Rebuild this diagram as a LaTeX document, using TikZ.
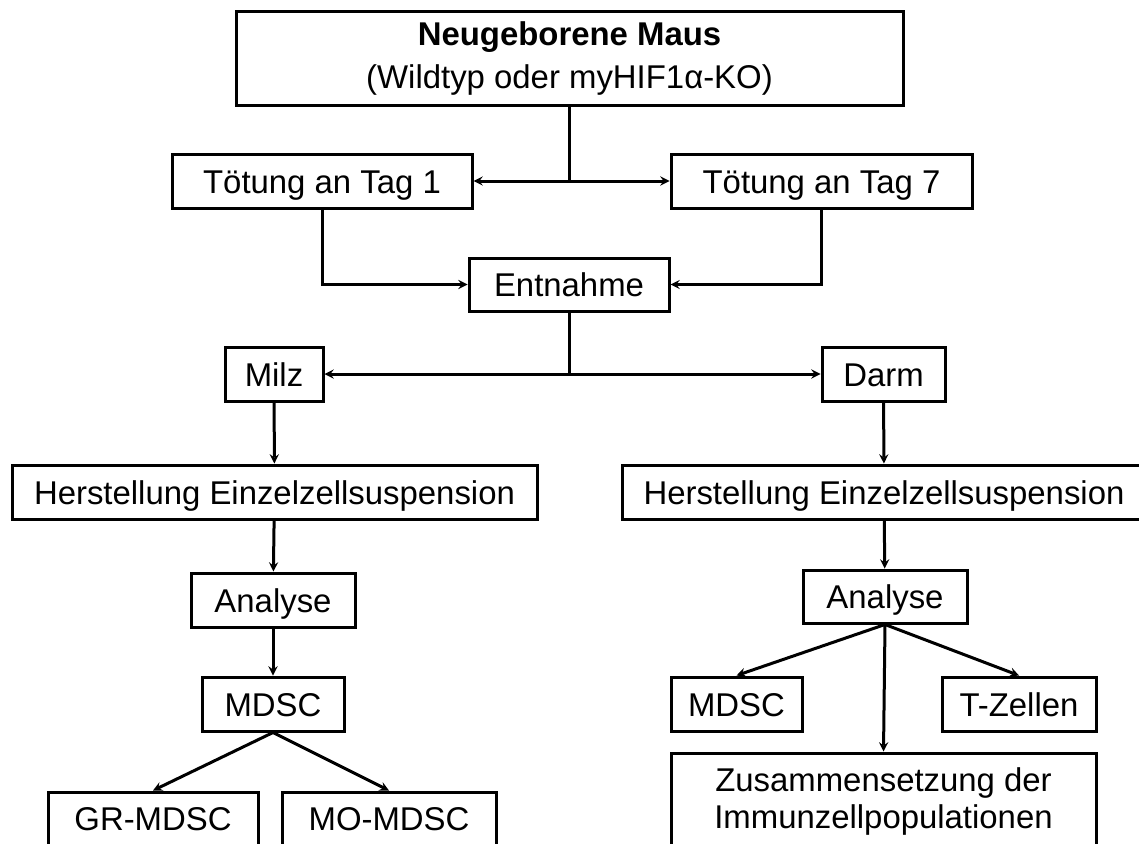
\documentclass[tikz,border=0pt]{standalone}
\usepackage{fontspec}
\setmainfont{Liberation Sans}

\begin{document}
\begin{tikzpicture}[x=1pt,y=-1pt,
    rahmen/.style={draw,line width=3pt,inner sep=0pt,font=\fontsize{32.9}{38}\selectfont},
    kasten/.style={rahmen,text height=24pt,text depth=0pt,minimum height=54pt},
    verb/.style={line width=3pt},
    pfeil/.style={verb,-stealth}]
    \useasboundingbox (0,0) rectangle (1139,843);
    % Maus und Toetung
    \node[rahmen,align=center,minimum width=667pt,minimum height=93pt] (maus) at (569.5,58.5)
        {\textbf{Neugeborene Maus}\\[5pt](Wildtyp oder myHIF1α-KO)};
    \node[kasten,minimum width=300pt] (tag1) at (322,181) {Tötung an Tag 1};
    \node[kasten,minimum width=301pt] (tag7) at (821.5,181) {Tötung an Tag 7};
    \node[kasten,minimum width=200pt,minimum height=53pt] (entnahme) at (569,284.5) {Entnahme};
    \node[kasten,minimum width=98pt] (milz) at (274,374) {Milz};
    \node[kasten,minimum width=123pt] (darm) at (883.5,374) {Darm};
    % linke Seite
    \node[kasten,minimum width=525pt] (hersL) at (274.5,492) {Herstellung Einzelzellsuspension};
    \node[kasten,minimum width=164pt] (anaL) at (273,600) {Analyse};
    \node[kasten,minimum width=142pt] (mdscL) at (273,704) {MDSC};
    \node[kasten,minimum width=210pt,minimum height=58pt,text depth=6pt] (grmdsc) at (153,821) {GR-MDSC};
    \node[kasten,minimum width=214pt,minimum height=58pt,text depth=6pt] (momdsc) at (389,821) {MO-MDSC};
    % rechte Seite
    \node[kasten,minimum width=524pt] (hersR) at (884,492) {Herstellung Einzelzellsuspension};
    \node[kasten,minimum width=164pt,minimum height=53pt] (anaR) at (885,596.5) {Analyse};
    \node[kasten,minimum width=131pt] (mdscR) at (736.5,704) {MDSC};
    \node[kasten,minimum width=154pt] (tzell) at (1019,704) {T-Zellen};
    \node[rahmen,align=center,minimum width=425pt,minimum height=97pt] (zus) at (883.5,801.5)
        {Zusammensetzung der\\[-1pt]Immunzellpopulationen};

    \coordinate (j1) at (maus.south |- tag1.east);
    \coordinate (j2) at (entnahme.south |- milz.east);
    \draw[verb] (maus.south) -- (j1);
    \draw[verb] (entnahme.south) -- (j2);
    \draw[pfeil] (tag1.south) |- (entnahme.west);
    \draw[pfeil] (tag7.south) |- (entnahme.east);
    \draw[pfeil] (j1) -- (tag1);
    \draw[pfeil] (j1) -- (tag7);
    \draw[pfeil] (j2) -- (milz);
    \draw[pfeil] (j2) -- (darm);
    \draw[pfeil] (milz) -- (hersL);
    \draw[pfeil] (hersL) -- (anaL);
    \draw[pfeil] (anaL) -- (mdscL);
    \draw[pfeil] (mdscL.south) -- (grmdsc.north);
    \draw[pfeil] (mdscL.south) -- (momdsc.north);
    \draw[pfeil] (darm) -- (hersR);
    \draw[pfeil] (hersR) -- (anaR);
    \draw[pfeil] (anaR.south) -- (mdscR.north);
    \draw[pfeil] (anaR.south) -- (zus.north);
    \draw[pfeil] (anaR.south) -- (tzell.north);
\end{tikzpicture}
\end{document}
